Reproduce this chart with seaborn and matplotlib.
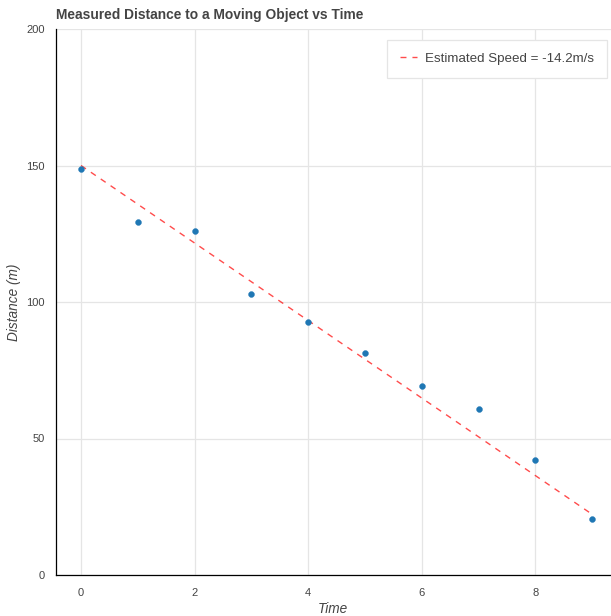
import matplotlib
matplotlib.use("Agg")
import matplotlib.pyplot as plt
import seaborn as sns
import numpy as np
import pandas as pd
from matplotlib.ticker import MultipleLocator

# Data
time_s = [0, 1, 2, 3, 4, 5, 6, 7, 8, 9]
distance_m = [148.7, 129.3, 126.0, 102.9, 92.7, 81.3, 69.2, 60.8, 42.1, 20.5]
est_speed = -14.2
est_intercept = 150.0

title = "Measured Distance to a Moving Object vs Time"
xlabel = "Time"
ylabel = "Distance (m)"
legend_label = "Estimated Speed = -14.2m/s"

sns.set_style("white")
plt.rcParams['font.family'] = ['Liberation Sans', 'DejaVu Sans']

W, H = 611, 616
fig = plt.figure(figsize=(W / 100, H / 100), dpi=100)
left_px, right_px, top_px, bottom_px = 55.6, 611, 29, 575
ax = fig.add_axes([left_px / W, (H - bottom_px) / H,
                   (right_px - left_px) / W, (bottom_px - top_px) / H])

df = pd.DataFrame({"Time": time_s, "Distance": distance_m})
fit = pd.DataFrame({"Time": time_s,
                    "Fit": [est_intercept + est_speed * t for t in time_s]})

ax.grid(True, which="major", color="#e5e5e5", linewidth=0.9)
ax.set_axisbelow(True)

sns.lineplot(data=fit, x="Time", y="Fit", ax=ax, color="red", alpha=0.7,
             linewidth=1.0, dashes=False, label=legend_label, zorder=3)
ax.lines[-1].set_dashes((4.3, 4.3))
sns.scatterplot(data=df, x="Time", y="Distance", ax=ax, color="#1f77b4",
                s=18, edgecolor="#1f77b4", linewidth=0.3, zorder=4)

ax.set_xlim(-0.447, 9.33)
ax.set_ylim(0, 200)
ax.xaxis.set_major_locator(MultipleLocator(2))
ax.xaxis.set_minor_locator(MultipleLocator(0.4))
ax.yaxis.set_major_locator(MultipleLocator(50))
ax.yaxis.set_minor_locator(MultipleLocator(10))

for s in ["top", "right"]:
    ax.spines[s].set_visible(False)
for s in ["left", "bottom"]:
    ax.spines[s].set_color("black")
    ax.spines[s].set_linewidth(0.9)

ax.tick_params(which="major", direction="out", length=4.6, width=0.9,
               color="black", labelsize=8, labelcolor="#444444", pad=4)
ax.tick_params(which="minor", direction="out", length=3.0, width=0.9,
               color="black")
ax.tick_params(axis="x", which="major", pad=5)
ax.tick_params(axis="y", which="major", pad=3)

ax.set_xlabel(xlabel, fontsize=9.8, fontstyle="italic", color="#444444", labelpad=2.5)
ax.set_ylabel(ylabel, fontsize=9.8, fontstyle="italic", color="#444444", labelpad=4)
ax.set_title(title, loc="left", fontsize=9.9, fontweight="bold", color="#444444", pad=7)

leg = ax.legend(loc="upper right", bbox_to_anchor=(607 / W, (H - 40) / H),
                bbox_transform=fig.transFigure, borderaxespad=0,
                frameon=True, fancybox=False, framealpha=1, fontsize=9.6,
                handlelength=1.3, handletextpad=0.6, borderpad=0.95)
leg.get_frame().set_edgecolor("#e5e5e5")
leg.get_frame().set_linewidth(0.9)
for t in leg.get_texts():
    t.set_color("#444444")

fig.savefig("out.png", dpi=100)
